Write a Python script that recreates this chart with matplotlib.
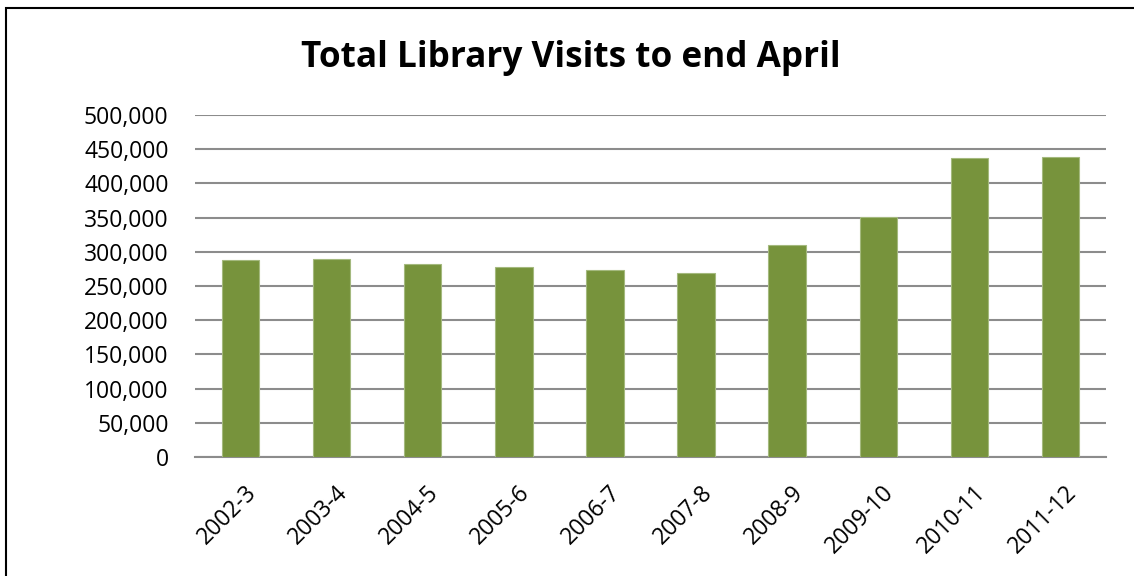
import matplotlib
matplotlib.use("Agg")
import matplotlib.pyplot as plt
from matplotlib.patches import Rectangle
from matplotlib.ticker import FuncFormatter, MultipleLocator
from matplotlib.transforms import ScaledTranslation

categories = ["2002-3", "2003-4", "2004-5", "2005-6", "2006-7", "2007-8",
              "2008-9", "2009-10", "2010-11", "2011-12"]
visits = [288000, 290000, 282000, 278500, 273000, 268500,
          310000, 351000, 437000, 439000]

W, H = 1134, 576
fig = plt.figure(figsize=(W / 100, H / 100), dpi=100)
plt.rcParams['font.family'] = ['Open Sans', 'DejaVu Sans']

# outer chart border (extends past right/bottom edges)
fig.patches.append(Rectangle((6 / W, -0.1), 1.2, 1 - 8 / H + 0.1,
                             transform=fig.transFigure, fill=False,
                             edgecolor='black', linewidth=1.5))

left, right, top, bottom = 195, 1106, 115, 457
ax = fig.add_axes([left / W, 1 - bottom / H, (right - left) / W, (bottom - top) / H])

x = range(len(categories))
ax.bar(x, visits, width=0.41, color='#77933C', edgecolor='#A4B97E', linewidth=0.8, zorder=3)

ax.set_xlim(-0.5, len(categories) - 0.5)
ax.set_ylim(0, 500000)
ax.yaxis.set_major_locator(MultipleLocator(50000))
ax.yaxis.set_major_formatter(FuncFormatter(lambda v, p: f"{int(v):,}"))
ax.grid(axis='y', color='#8C8C8C', linewidth=1.5, zorder=0)
ax.set_axisbelow(True)

for s in ['left', 'right', 'top']:
    ax.spines[s].set_visible(False)
ax.spines['bottom'].set_color('#8C8C8C')
ax.spines['bottom'].set_linewidth(1.5)

ax.set_xticks(list(x))
ax.set_xticklabels(categories, rotation=45, ha='right', rotation_mode='anchor')
ax.tick_params(axis='both', length=0, labelsize=16.5, colors='black')
ax.tick_params(axis='y', pad=19)
ax.tick_params(axis='x', pad=17)
shift = ScaledTranslation(4 / 100, 0, fig.dpi_scale_trans)
for lbl in ax.get_xticklabels():
    lbl.set_transform(lbl.get_transform() + shift)

fig.text(571 / W, 1 - 58 / H, "Total Library Visits to end April",
         ha='center', va='center', fontsize=25.3, fontweight='bold')

fig.savefig("out.png", dpi=100)
